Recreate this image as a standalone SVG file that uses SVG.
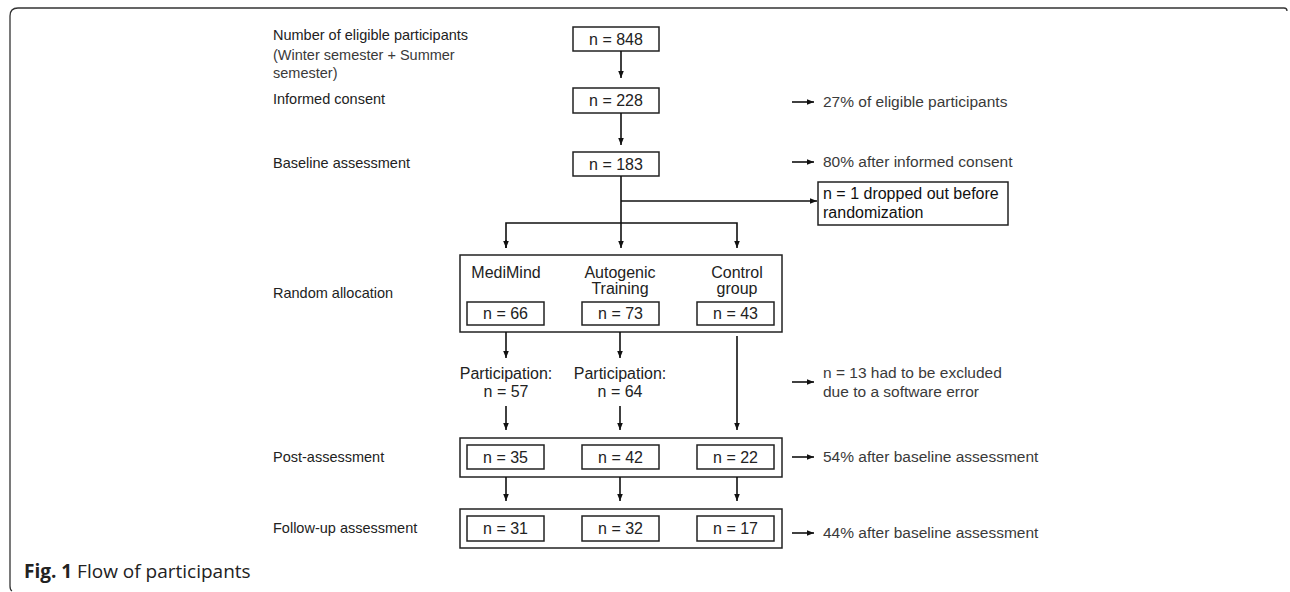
<svg xmlns="http://www.w3.org/2000/svg" width="1290" height="592" viewBox="0 0 1290 592">
<defs>
<marker id="ah" viewBox="0 0 10 10" refX="10" refY="5" markerWidth="7" markerHeight="7" markerUnits="userSpaceOnUse" orient="auto">
<path d="M0,1 L10,5 L0,9 Z" fill="#111"/>
</marker>
<style>
.bx{fill:#fff;stroke:#222;stroke-width:1.5}
.ln{fill:none;stroke:#111;stroke-width:1.6}
.t{font-family:"Liberation Sans",Arial,sans-serif;font-size:14.5px;fill:#222}
.tc{font-family:"Liberation Sans",Arial,sans-serif;font-size:16px;fill:#222;text-anchor:middle}
.tg{font-family:"Liberation Sans",Arial,sans-serif;font-size:15.5px;fill:#3a3a3a}
.td{font-family:"Liberation Sans",Arial,sans-serif;font-size:16px;fill:#111}
.cap{font-family:"Open Sans",sans-serif;font-size:19px;fill:#222}
</style>
</defs>
<rect width="1290" height="592" fill="#fff"/>
<path d="M1287,11 Q1287,8 1284,8 H18 Q10,8 10,16 V586 Q10,590 12,591" fill="none" stroke="#333" stroke-width="1.3"/>

<g id="labels">
<text class="t" x="273" y="40">Number of eligible participants</text>
<text class="tg" x="273" y="60" style="font-size:14.5px">(Winter semester + Summer</text>
<text class="tg" x="273" y="78" style="font-size:14.5px">semester)</text>
<text class="t" x="273" y="104">Informed consent</text>
<text class="t" x="273" y="168">Baseline assessment</text>
<text class="t" x="273" y="298">Random allocation</text>
<text class="t" x="273" y="462">Post-assessment</text>
<text class="t" x="273" y="533">Follow-up assessment</text>
</g>

<g id="n848"><rect class="bx" x="573" y="27" width="86" height="24"/><text class="tc" x="616" y="45">n = 848</text></g>
<g id="n228"><rect class="bx" x="573" y="88" width="86" height="25"/><text class="tc" x="616" y="106">n = 228</text></g>
<g id="n183"><rect class="bx" x="573" y="152" width="86" height="24"/><text class="tc" x="616" y="170">n = 183</text></g>

<g id="dropped">
<rect class="bx" x="818" y="182" width="190" height="43"/>
<text class="td" x="823" y="199">n = 1 dropped out before</text>
<text class="td" x="823" y="218">randomization</text>
</g>

<g id="allocation">
<rect class="bx" x="460" y="255" width="322" height="77"/>
<text class="tc" x="506" y="278">MediMind</text>
<text class="tc" x="620" y="278">Autogenic</text>
<text class="tc" x="620" y="294">Training</text>
<text class="tc" x="737" y="278">Control</text>
<text class="tc" x="737" y="294">group</text>
<rect class="bx" x="467" y="302" width="77" height="23"/><text class="tc" x="505.5" y="319">n = 66</text>
<rect class="bx" x="582" y="302" width="77" height="23"/><text class="tc" x="620.5" y="319">n = 73</text>
<rect class="bx" x="697" y="302" width="77" height="23"/><text class="tc" x="735.5" y="319">n = 43</text>
</g>

<g id="participation">
<text class="tc" x="506" y="379">Participation:</text>
<text class="tc" x="506" y="397">n = 57</text>
<text class="tc" x="620" y="379">Participation:</text>
<text class="tc" x="620" y="397">n = 64</text>
</g>

<g id="post">
<rect class="bx" x="460" y="438" width="322" height="39"/>
<rect class="bx" x="467" y="445" width="77" height="24"/><text class="tc" x="505.5" y="463">n = 35</text>
<rect class="bx" x="582" y="445" width="77" height="24"/><text class="tc" x="620.5" y="463">n = 42</text>
<rect class="bx" x="697" y="445" width="77" height="24"/><text class="tc" x="735.5" y="463">n = 22</text>
</g>

<g id="followup">
<rect class="bx" x="460" y="509" width="322" height="39"/>
<rect class="bx" x="467" y="516" width="77" height="25"/><text class="tc" x="505.5" y="534">n = 31</text>
<rect class="bx" x="582" y="516" width="77" height="25"/><text class="tc" x="620.5" y="534">n = 32</text>
<rect class="bx" x="697" y="516" width="77" height="25"/><text class="tc" x="735.5" y="534">n = 17</text>
</g>

<g id="notes">
<text class="tg" x="823" y="107">27% of eligible participants</text>
<text class="tg" x="823" y="167">80% after informed consent</text>
<text class="tg" x="823" y="378">n = 13 had to be excluded</text>
<text class="tg" x="823" y="397">due to a software error</text>
<text class="tg" x="823" y="462">54% after baseline assessment</text>
<text class="tg" x="823" y="538">44% after baseline assessment</text>
</g>

<g id="connectors">
<line class="ln" x1="621" y1="51" x2="621" y2="78" marker-end="url(#ah)"/>
<line class="ln" x1="621" y1="113" x2="621" y2="145" marker-end="url(#ah)"/>
<line class="ln" x1="621" y1="176" x2="621" y2="248" marker-end="url(#ah)"/>
<line class="ln" x1="621" y1="201" x2="817" y2="201" marker-end="url(#ah)"/>
<path class="ln" d="M506,248 V223 H737 V248" marker-end="url(#ah)"/>
<line class="ln" x1="506" y1="240" x2="506" y2="248" marker-end="url(#ah)"/>
<line class="ln" x1="506" y1="332" x2="506" y2="358" marker-end="url(#ah)"/>
<line class="ln" x1="620" y1="332" x2="620" y2="358" marker-end="url(#ah)"/>
<line class="ln" x1="737" y1="336" x2="737" y2="430" marker-end="url(#ah)"/>
<line class="ln" x1="506" y1="406" x2="506" y2="430" marker-end="url(#ah)"/>
<line class="ln" x1="620" y1="406" x2="620" y2="430" marker-end="url(#ah)"/>
<line class="ln" x1="506" y1="477" x2="506" y2="501" marker-end="url(#ah)"/>
<line class="ln" x1="620" y1="477" x2="620" y2="501" marker-end="url(#ah)"/>
<line class="ln" x1="737" y1="477" x2="737" y2="501" marker-end="url(#ah)"/>
<line class="ln" x1="792" y1="102" x2="814" y2="102" marker-end="url(#ah)"/>
<line class="ln" x1="792" y1="162" x2="814" y2="162" marker-end="url(#ah)"/>
<line class="ln" x1="792" y1="382" x2="814" y2="382" marker-end="url(#ah)"/>
<line class="ln" x1="792" y1="457" x2="814" y2="457" marker-end="url(#ah)"/>
<line class="ln" x1="792" y1="533" x2="814" y2="533" marker-end="url(#ah)"/>
</g>

<g id="caption">
<text class="cap" x="24" y="578"><tspan font-weight="bold">Fig. 1</tspan> Flow of participants</text>
</g>
</svg>
